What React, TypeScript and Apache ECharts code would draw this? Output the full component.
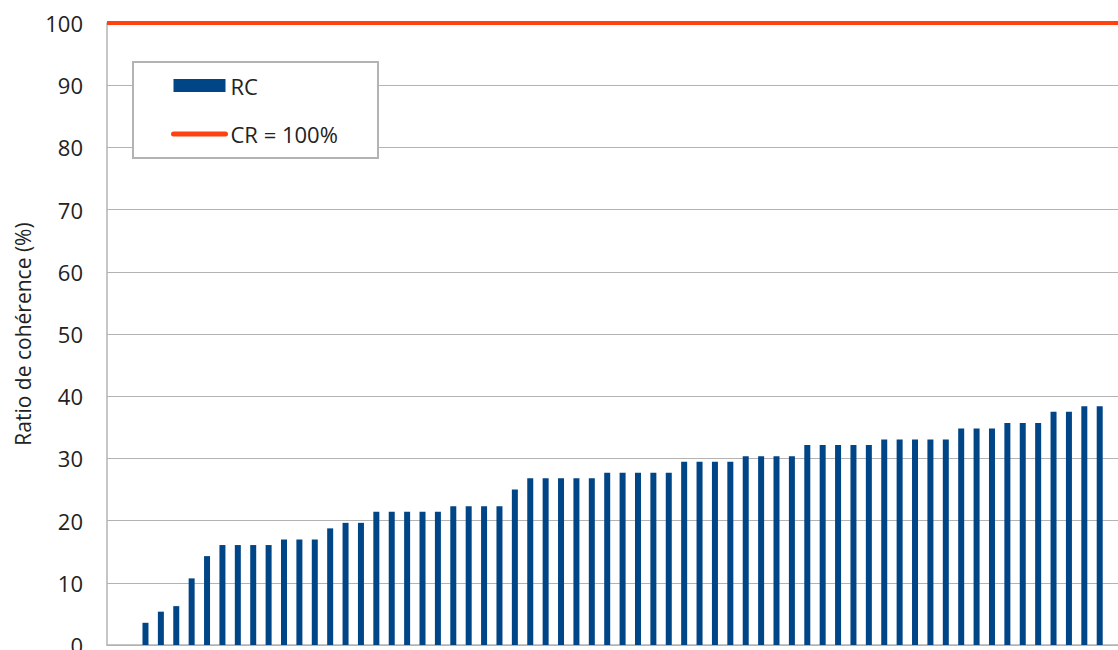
import React, { useEffect, useRef } from "react";
import * as echarts from "echarts";

const categories = [
  "1", "2", "3", "4", "5", "6", "7", "8", "9", "10",
  "11", "12", "13", "14", "15", "16", "17", "18", "19", "20",
  "21", "22", "23", "24", "25", "26", "27", "28", "29", "30",
  "31", "32", "33", "34", "35", "36", "37", "38", "39", "40",
  "41", "42", "43", "44", "45", "46", "47", "48", "49", "50",
  "51", "52", "53", "54", "55", "56", "57", "58", "59", "60",
  "61", "62", "63", "64", "65", "66",
];

const rcValues: (number | null)[] = [
  null, null,
  3.57, 5.36, 6.25, 10.71, 14.29,
  16.07, 16.07, 16.07, 16.07,
  16.96, 16.96, 16.96,
  18.75,
  19.64, 19.64,
  21.43, 21.43, 21.43, 21.43, 21.43,
  22.32, 22.32, 22.32, 22.32,
  25.0,
  26.79, 26.79, 26.79, 26.79, 26.79,
  27.68, 27.68, 27.68, 27.68, 27.68,
  29.46, 29.46, 29.46, 29.46,
  30.36, 30.36, 30.36, 30.36,
  32.14, 32.14, 32.14, 32.14, 32.14,
  33.04, 33.04, 33.04, 33.04, 33.04,
  34.82, 34.82, 34.82,
  35.71, 35.71, 35.71,
  37.5, 37.5,
  38.39, 38.39,
  null,
];

const crValue = 100;
const yTicks = { min: 0, max: 100, interval: 10 };

const BLUE = "#004586";
const RED = "#ff420e";
const GRID = "#b3b3b3";
const TEXT = "#222222";
const FONT = "'Open Sans', 'Noto Sans', sans-serif";

export default function App() {
  const ref = useRef<HTMLDivElement>(null);

  useEffect(() => {
    if (!ref.current) return;
    const chart = echarts.init(ref.current, undefined, { renderer: "svg" });
    chart.setOption({
      animation: false,
      textStyle: { fontFamily: FONT },
      grid: {
        left: 107,
        top: 23,
        bottom: 5,
        right: 7.2,
        containLabel: false,
        outerBoundsMode: "none",
      },
      xAxis: {
        type: "category",
        data: categories,
        boundaryGap: true,
        axisLabel: { show: false },
        axisTick: { show: false },
        axisLine: { show: true, lineStyle: { color: GRID, width: 1.5 } },
        splitLine: { show: false },
      },
      yAxis: {
        type: "value",
        min: yTicks.min,
        max: yTicks.max,
        interval: yTicks.interval,
        name: "Ratio de cohérence (%)",
        nameLocation: "middle",
        nameGap: 74,
        nameTextStyle: { fontSize: 21, color: TEXT, fontFamily: FONT },
        axisLabel: { fontSize: 22, color: TEXT, margin: 24, fontFamily: FONT },
        axisTick: { show: false },
        axisLine: { show: true, lineStyle: { color: GRID, width: 1.5 } },
        splitLine: { show: true, lineStyle: { color: GRID, width: 1 } },
      },
      legend: {
        orient: "vertical",
        left: 171,
        top: 72.5,
        padding: 0,
        itemWidth: 52,
        itemHeight: 13,
        itemGap: 22.5,
        z: 10,
        textStyle: { fontSize: 22, color: TEXT, lineHeight: 26, fontFamily: FONT },
        data: [
          { name: "RC", icon: "rect" },
          {
            name: "CR = 100%",
            itemStyle: { color: "transparent", opacity: 0, borderWidth: 0 },
            lineStyle: { color: RED, width: 5, cap: "round" },
          },
        ],
      },
      graphic: [
        {
          type: "rect",
          z: 9,
          shape: { x: 133, y: 62, width: 245, height: 96 },
          style: { fill: "#ffffff", stroke: GRID, lineWidth: 2 },
        },
      ],
      series: [
        {
          name: "RC",
          type: "bar",
          data: rcValues,
          barWidth: 6,
          itemStyle: { color: BLUE },
        },
        {
          name: "CR = 100%",
          type: "line",
          data: [],
          symbol: "none",
          lineStyle: { color: RED, width: 5, cap: "round" },
          itemStyle: { color: RED },
          markLine: {
            silent: true,
            symbol: ["none", "none"],
            label: { show: false },
            lineStyle: { color: RED, width: 4, type: "solid" },
            data: [{ yAxis: crValue }],
          },
        },
      ],
    });
    return () => chart.dispose();
  }, []);

  return (
    <div
      style={{
        position: "fixed",
        left: 0,
        top: 0,
        width: 1118,
        height: 650,
        overflow: "hidden",
        background: "#ffffff",
      }}
    >
      <div ref={ref} style={{ width: 1130, height: 650 }} />
    </div>
  );
}
